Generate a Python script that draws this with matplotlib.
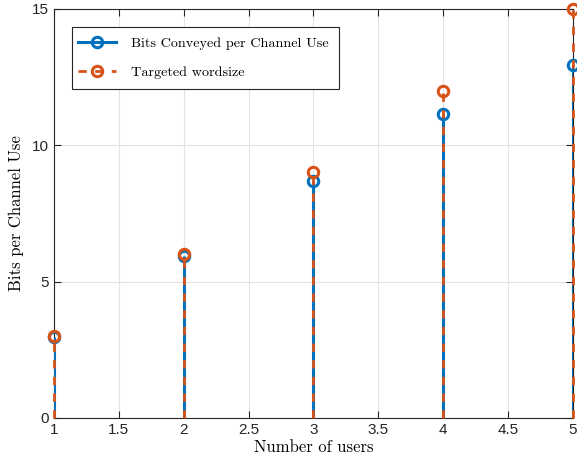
import matplotlib
matplotlib.use("Agg")
from matplotlib import pyplot as plt
from matplotlib.lines import Line2D
from matplotlib.legend_handler import HandlerLine2D

users = [1, 2, 3, 4, 5]
bits_conveyed = [2.97, 5.92, 8.68, 11.15, 12.92]
target_wordsize = [3, 6, 9, 12, 15]
x_ticks = [1, 1.5, 2, 2.5, 3, 3.5, 4, 4.5, 5]
y_ticks = [0, 5, 10, 15]

blue = '#0072BD'
orange = '#D95319'
serif = ['cmr10', 'DejaVu Serif']

plt.rcParams['font.family'] = ['Liberation Sans', 'DejaVu Sans']
plt.rcParams['axes.formatter.use_mathtext'] = True


class HandlerEndMarker(HandlerLine2D):
    """ legend line with the marker sitting at its right end """
    def get_xdata(self, legend, xdescent, ydescent, width, height, fontsize):
        xdata, _ = super().get_xdata(legend, xdescent, ydescent,
                                     width, height, fontsize)
        shift = 3.6  # pull the line a bit to the left (points)
        xdata = [xdata[0] - shift, xdata[-1] - shift]
        return xdata, [xdata[-1]]


fig = plt.figure(figsize=(5.77, 4.67), dpi=100)
ax = fig.add_axes((0.0936, 0.105, 0.8994, 0.8765))

# blue stems underneath
for xv, yv in zip(users, bits_conveyed):
    ax.plot([xv, xv], [0, yv], color=blue, lw=2.2, zorder=3,
            solid_capstyle='butt')
ax.plot(users, bits_conveyed, 'o', ms=7.5, mfc='none', mec=blue,
        mew=2.2, zorder=4, clip_on=False)

# orange dashed stems on top
for xv, yv in zip(users, target_wordsize):
    ax.plot([xv, xv], [0, yv], color=orange, lw=2, ls=(0, (3, 3)),
            zorder=5, clip_on=False)
ax.plot(users, target_wordsize, 'o', ms=7.5, mfc='none', mec=orange,
        mew=2.2, zorder=6, clip_on=False)

ax.set_xlim(1, 5)
ax.set_ylim(0, 15)
ax.set_xticks(x_ticks)
ax.set_xticklabels([f"{t:g}" for t in x_ticks])
ax.set_yticks(y_ticks)
ax.set_yticklabels([str(t) for t in y_ticks])
ax.tick_params(direction='in', length=5, width=0.8, labelsize=11,
               top=True, right=True, colors='#262626')
ax.grid(True, color='#e3e3e3', lw=0.8)
ax.set_axisbelow(True)
for s in ax.spines.values():
    s.set_color('#262626')
    s.set_linewidth(0.8)

ax.set_xlabel("Number of users", fontsize=12, family=serif, labelpad=2)
ax.set_ylabel("Bits per Channel Use", fontsize=12, family=serif, labelpad=6)

handles = [
    Line2D([], [], color=blue, lw=2.2, marker='o', ms=7.5, mfc='none',
           mec=blue, mew=2.2),
    Line2D([], [], color=orange, lw=2, ls=(0, (3, 3)), marker='o', ms=7.5,
           mfc='none', mec=orange, mew=2.2),
]
leg = ax.legend(handles, ["Bits Conveyed per Channel Use",
                          "Targeted wordsize"],
                loc='upper left', bbox_to_anchor=(0.035, 0.956),
                prop={'family': serif, 'size': 10.2}, fancybox=False,
                edgecolor='#262626', framealpha=1, handlelength=2.7,
                handletextpad=0.72, borderpad=0.75, labelspacing=1.1,
                borderaxespad=0,
                handler_map={Line2D: HandlerEndMarker()})
leg.get_frame().set_linewidth(0.8)

fig.savefig("out.png", dpi=100)
